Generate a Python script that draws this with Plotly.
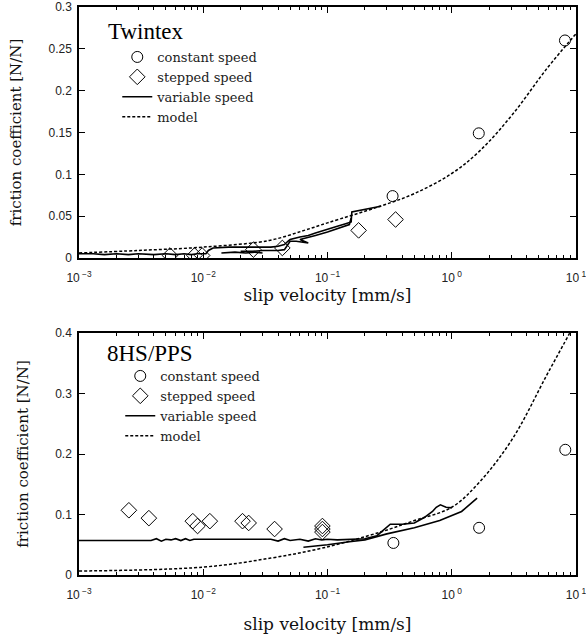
import plotly.graph_objects as go
from plotly.subplots import make_subplots

# ---------------- Twintex (top) ----------------
tw_const_x = [0.334, 1.65, 8.15]
tw_const_y = [0.074, 0.149, 0.260]

tw_step_x = [0.0054, 0.0085, 0.0098, 0.0253, 0.0433, 0.178, 0.353]
tw_step_y = [0.003, 0.003, 0.003, 0.010, 0.012, 0.033, 0.046]

tw_var_x = [0.001, 0.0013, 0.0016, 0.002, 0.0025, 0.003, 0.004, 0.005, 0.006, 0.007, 0.008, 0.009, 0.0105,
            0.011, 0.012, 0.014, 0.016, 0.02, 0.025, 0.03, 0.035, 0.04, 0.043, 0.045, 0.048, 0.05, 0.06,
            0.07, 0.08, 0.1, 0.12, 0.14, 0.155, 0.157, 0.18, 0.2, 0.22, 0.25, 0.27,
            None,
            0.02, 0.025, 0.03, 0.04, 0.045, 0.05, 0.056, 0.067, 0.07, 0.06, 0.07, 0.08, 0.1, 0.12, 0.15, 0.155,
            None,
            0.014, 0.018, 0.022, 0.026, 0.03]
tw_var_y = [0.005, 0.005, 0.004, 0.005, 0.004, 0.005, 0.004, 0.005, 0.004, 0.005, 0.004, 0.005, 0.005,
            0.009, 0.012, 0.013, 0.013, 0.013, 0.013, 0.013, 0.013, 0.014, 0.015, 0.016, 0.020, 0.022, 0.025,
            0.027, 0.030, 0.034, 0.038, 0.041, 0.043, 0.055, 0.057, 0.058, 0.060, 0.061, 0.062,
            None,
            0.008, 0.008, 0.009, 0.009, 0.010, 0.020, 0.020, 0.019, 0.018, 0.022, 0.025, 0.027, 0.031, 0.035, 0.040, 0.048,
            None,
            0.006, 0.007, 0.006, 0.007, 0.006]

tw_model_x = [0.001, 0.003, 0.01, 0.034, 0.065, 0.1, 0.267, 0.5, 1.0, 1.68, 3.1, 5.8, 10.0]
tw_model_y = [0.006, 0.009, 0.013, 0.021, 0.033, 0.042, 0.062, 0.077, 0.101, 0.128, 0.172, 0.226, 0.268]

tw_yticks = [0, 0.05, 0.1, 0.15, 0.2, 0.25, 0.3]
tw_ytext = ["0", "0.05", "0.1", "0.15", "0.2", "0.25", "0.3"]

# ---------------- 8HS/PPS (bottom) ----------------
hs_const_x = [0.339, 1.66, 8.2]
hs_const_y = [0.053, 0.078, 0.207]

hs_step_x = [0.00252, 0.00365, 0.00824, 0.0090, 0.0113, 0.0207, 0.0232, 0.0375, 0.091, 0.091, 0.091]
hs_step_y = [0.107, 0.094, 0.089, 0.081, 0.089, 0.089, 0.086, 0.076, 0.081, 0.076, 0.071]

hs_var_x = [0.001, 0.002, 0.0038, 0.0042, 0.0046, 0.005, 0.0055, 0.006, 0.0066, 0.0072, 0.0078, 0.0084,
            0.01, 0.02, 0.035, 0.04, 0.045, 0.05, 0.06, 0.07, 0.08, 0.09, 0.1, 0.12, 0.15, 0.2, 0.25,
            0.3, 0.32, 0.4, 0.5, 0.6, 0.7, 0.75, 0.81, 0.9, 1.0,
            None,
            0.064, 0.08, 0.1, 0.15, 0.2, 0.3, 0.4, 0.5, 0.8, 1.2, 1.6]
hs_var_y = [0.057, 0.057, 0.057, 0.060, 0.056, 0.059, 0.058, 0.060, 0.057, 0.060, 0.057, 0.059,
            0.059, 0.059, 0.059, 0.056, 0.060, 0.057, 0.059, 0.056, 0.060, 0.058, 0.059, 0.058, 0.059, 0.060, 0.065,
            0.078, 0.084, 0.084, 0.086, 0.095, 0.105, 0.112, 0.116, 0.112, 0.111,
            None,
            0.046, 0.048, 0.050, 0.055, 0.058, 0.068, 0.074, 0.078, 0.090, 0.105, 0.127]

hs_model_x = [0.001, 0.01, 0.035, 0.093, 0.267, 0.5, 1.0, 1.68, 3.1, 5.8, 8.9, 10.0]
hs_model_y = [0.0066, 0.013, 0.028, 0.045, 0.071, 0.090, 0.112, 0.154, 0.226, 0.330, 0.400, 0.42]

hs_yticks = [0, 0.1, 0.2, 0.3, 0.4]
hs_ytext = ["0", "0.1", "0.2", "0.3", "0.4"]

x_tickvals = [0.001, 0.01, 0.1, 1, 10]
x_ticktext = ["10<sup> −3</sup>", "10<sup> −2</sup>", "10<sup> −1</sup>", "10<sup> 0</sup>", "10<sup> 1</sup>"]

SERIF = "DejaVu Serif"
TITLE_SERIF = "Liberation Serif"
SANS = "Liberation Sans"

fig = make_subplots(rows=2, cols=1, vertical_spacing=0.13)

def add_set(row, cx, cy, sx, sy, vx, vy, mx, my, legend):
    fig.add_trace(go.Scatter(x=cx, y=cy, mode="markers", name="constant speed",
                             marker=dict(symbol="circle-open", size=11, color="black", line=dict(width=1)),
                             legend=legend), row=row, col=1)
    fig.add_trace(go.Scatter(x=sx, y=sy, mode="markers", name="stepped speed",
                             marker=dict(symbol="diamond-open", size=12, color="black", line=dict(width=1)),
                             legend=legend), row=row, col=1)
    fig.add_trace(go.Scatter(x=vx, y=vy, mode="lines", name="variable speed",
                             line=dict(color="black", width=1.6), connectgaps=False,
                             legend=legend), row=row, col=1)
    fig.add_trace(go.Scatter(x=mx, y=my, mode="lines", name="model", line_shape="spline",
                             line=dict(color="black", width=1.5, dash="3px,2px"),
                             legend=legend), row=row, col=1)

add_set(1, tw_const_x, tw_const_y, tw_step_x, tw_step_y, tw_var_x, tw_var_y, tw_model_x, tw_model_y, "legend")
add_set(2, hs_const_x, hs_const_y, hs_step_x, hs_step_y, hs_var_x, hs_var_y, hs_model_x, hs_model_y, "legend2")

axis_common = dict(showline=True, linecolor="black", linewidth=1.5, mirror="allticks",
                   ticks="inside", tickcolor="black", showgrid=False, zeroline=False,
                   automargin=False, ticklabeloverflow="allow",
                   tickfont=dict(family=SANS, size=12, color="#222"))

x_standoffs = {1: 2, 2: 17}
for r in (1, 2):
    fig.update_xaxes(type="log", range=[-3, 1], tickmode="array", tickvals=x_tickvals, ticktext=x_ticktext,
                     minor=dict(ticks="inside", ticklen=3, tickcolor="black", dtick="D1", showgrid=False),
                     ticklen=6, ticklabelstandoff=8,
                     title=dict(text="slip velocity [mm/s]", font=dict(family=SERIF, size=17, color="#111"),
                                standoff=x_standoffs[r]),
                     row=r, col=1, **axis_common)

fig.update_yaxes(range=[0, 0.3], tickmode="array", tickvals=tw_yticks, ticktext=tw_ytext, ticklen=6,
                 ticklabelstandoff=3, row=1, col=1,
                 title=dict(text="friction coefficient [N/N]", font=dict(family=SERIF, size=15, color="#111"), standoff=23),
                 **axis_common)
fig.update_yaxes(range=[0, 0.4], tickmode="array", tickvals=hs_yticks, ticktext=hs_ytext, ticklen=6,
                 ticklabelstandoff=3, row=2, col=1,
                 title=dict(text="friction coefficient [N/N]", font=dict(family=SERIF, size=15, color="#111"), standoff=23),
                 **axis_common)

fig.update_layout(
    width=586, height=641,
    margin=dict(l=79, r=10, t=7, b=66),
    plot_bgcolor="white", paper_bgcolor="white",
    legend=dict(x=0.077, y=0.9384, xanchor="left", yanchor="top", bgcolor="rgba(0,0,0,0)",
                font=dict(family=SERIF, size=13, color="#222"), tracegroupgap=0, itemwidth=30),
    legend2=dict(x=0.083, y=0.3768, xanchor="left", yanchor="top", bgcolor="rgba(0,0,0,0)",
                 font=dict(family=SERIF, size=13, color="#222"), tracegroupgap=0, itemwidth=30),
)
fig.update_yaxes(domain=[0.5581, 1.0], row=1, col=1)
fig.update_yaxes(domain=[0.0, 0.426], row=2, col=1)

fig.add_annotation(text="Twintex", xref="x domain", yref="y domain", x=0.054, y=0.904,
                   xanchor="left", yanchor="middle", showarrow=False,
                   font=dict(family=TITLE_SERIF, size=23, color="black"))
fig.add_annotation(text="8HS/PPS", xref="x2 domain", yref="y2 domain", x=0.052, y=0.917,
                   xanchor="left", yanchor="middle", showarrow=False,
                   font=dict(family=TITLE_SERIF, size=23, color="black"))

fig.write_html("out.html", config={"displayModeBar": False},
               post_script="document.body.style.margin='0';")
